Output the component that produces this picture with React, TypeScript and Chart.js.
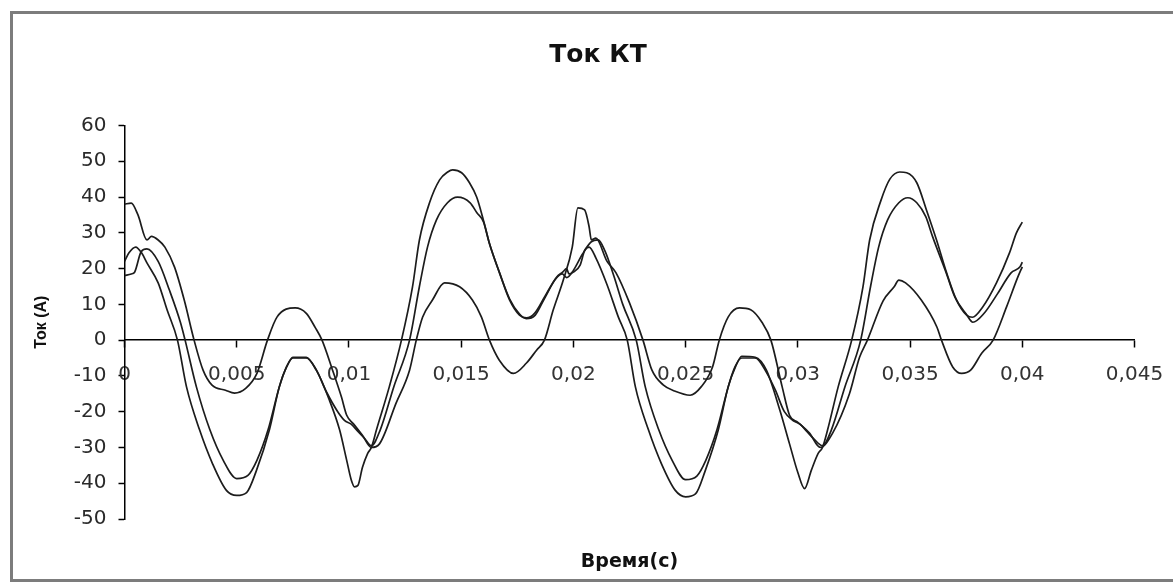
import { useEffect, useRef } from "react";
import { Chart, registerables } from "chart.js";

Chart.register(...registerables);

// ---- data (time in seconds, current in amperes) ----
const b1Time = [
  0, 0.0002, 0.0005, 0.00076, 0.001, 0.0015, 0.0019, 0.00236, 0.00276, 0.00334, 0.00392, 0.00454, 0.005,
  0.00544, 0.00588, 0.00646, 0.0069, 0.00722, 0.0075, 0.0081, 0.00855, 0.00913, 0.00958, 0.0099, 0.0101,
  0.01025, 0.0104, 0.0106, 0.01083, 0.011, 0.01123, 0.0118, 0.01234, 0.01283, 0.01314, 0.01359, 0.01404,
  0.0144, 0.01462, 0.01502, 0.01537, 0.01569, 0.01595, 0.01626, 0.01671, 0.01716, 0.0176, 0.01791, 0.01827,
  0.01871, 0.01925, 0.01952, 0.0197, 0.0198, 0.02, 0.0203, 0.0205, 0.0207, 0.021, 0.0215, 0.022, 0.0224,
  0.02276, 0.02334, 0.02392, 0.02454, 0.025, 0.02544, 0.02588, 0.02646, 0.0269, 0.02722, 0.0275, 0.0281,
  0.0286, 0.0292, 0.02963, 0.03, 0.0303, 0.0306, 0.0309, 0.0311, 0.03133, 0.0318, 0.0324, 0.0329, 0.0332,
  0.0337, 0.0341, 0.03454, 0.03485, 0.0353, 0.03573, 0.03618, 0.03663, 0.03707, 0.03752, 0.03778, 0.03823,
  0.03885, 0.03943, 0.03974, 0.04,
];
const b1Current = [
  22, 24.4, 26, 24.4, 21.6, 16, 8.4, 0, -13, -25, -34.5, -42, -43.4,
  -42.6, -36.4, -25, -13, -7.5, -4.8, -4.8, -8.4, -16.8, -25, -33.6, -39,
  -41, -40.6, -35.6, -31.7, -30, -25, -13, 0, 14.8, 28, 38.4, 44.8,
  47, 47.6, 46.8, 44, 40, 34.5, 27, 18.8, 11.2, 7, 6.2, 7.5,
  12, 17.6, 19, 20, 18.5, 19, 21, 25, 26, 23, 15.5, 6.5, 0,
  -13, -25, -34.5, -42, -43.8, -43, -36.4, -25, -13, -7.5, -4.5, -4.8,
  -8.4, -19.6, -29, -37, -41.5, -36.4, -31.7, -30, -25, -13, 0, 14.8, 28,
  39, 45, 47, 46.8, 44, 36.4, 28, 18.8, 11.2, 7, 6.4, 9.2,
  16, 24.4, 30, 33,
];

const b2Time = [
  0, 0.0003, 0.00045, 0.00074, 0.001, 0.0015, 0.002, 0.0025, 0.0027, 0.0032, 0.0038, 0.0044, 0.005,
  0.0055, 0.0059, 0.0064, 0.0069, 0.00722, 0.0075, 0.0081, 0.00855, 0.009, 0.0095, 0.0098, 0.0101, 0.0104,
  0.0107, 0.011, 0.0114, 0.012, 0.0127, 0.01314, 0.0135, 0.0139, 0.01439, 0.01484, 0.0154, 0.0157, 0.016,
  0.01626, 0.01671, 0.01716, 0.0176, 0.0179, 0.0183, 0.0187, 0.0192, 0.0195, 0.0197, 0.02, 0.0204, 0.0208,
  0.0211, 0.0214, 0.0218, 0.0222, 0.0228, 0.0232, 0.0238, 0.0244, 0.025, 0.0255, 0.0259, 0.0264, 0.0269,
  0.0272, 0.0275, 0.0281, 0.0286, 0.029, 0.0294, 0.02977, 0.0301, 0.0304, 0.0307, 0.0311, 0.0315, 0.0321,
  0.0328, 0.03324, 0.0336, 0.034, 0.0345, 0.0349, 0.0353, 0.0357, 0.036, 0.0366, 0.037, 0.0375, 0.0378,
  0.0383, 0.0389, 0.0395, 0.0399, 0.04,
];
const b2Current = [
  18, 18.5, 19, 24.7, 25.5, 22, 14, 4.8, 0, -13, -25, -33.6, -38.7,
  -37.8, -33.6, -25, -13, -7.5, -5, -5, -8.4, -14.5, -20, -22.4, -23.5, -25.5,
  -27.5, -29.5, -25, -13, 0, 15, 26, 33.6, 38.4, 40, 38.4, 35.6, 33,
  27, 18.8, 11.5, 7.3, 6, 7, 11.5, 17, 18.5, 17.5, 19.5, 24, 27.5,
  28, 25, 18, 10, 0, -13, -25, -33.6, -39, -38, -33.6, -25, -13,
  -7.5, -5, -5, -9, -14, -20, -22.4, -23.5, -25.5, -27.5, -29.5, -25, -13,
  0, 15, 26, 33.6, 38.4, 39.8, 38.4, 34.5, 29, 19, 12, 7.3, 5,
  7.5, 13, 18.8, 20.5, 21.8,
];

const sTime = [
  0, 0.0003, 0.0006, 0.001, 0.0012, 0.0015, 0.0018, 0.00223, 0.00267, 0.0031, 0.0035, 0.0039, 0.0045,
  0.0049, 0.0054, 0.0059, 0.00637, 0.0068, 0.0076, 0.0081, 0.0085, 0.0088, 0.00927, 0.00967, 0.0099,
  0.0102, 0.0106, 0.011, 0.01136, 0.0121, 0.0127, 0.013, 0.01328, 0.01372, 0.01426, 0.01493, 0.0155,
  0.0159, 0.01626, 0.0167, 0.01733, 0.01791, 0.01836, 0.01871, 0.0191, 0.01955, 0.01995, 0.0202, 0.0205,
  0.0207, 0.0208, 0.021, 0.0215, 0.0219, 0.0225, 0.0231, 0.0235, 0.024, 0.0245, 0.0252, 0.0257, 0.0262,
  0.0265, 0.0269, 0.0274, 0.0279, 0.0284, 0.0288, 0.0293, 0.02963, 0.03, 0.03052, 0.031, 0.03155, 0.0323,
  0.03275, 0.0331, 0.0338, 0.0343, 0.0345, 0.0348, 0.0355, 0.0362, 0.0364, 0.0369, 0.0373, 0.0377, 0.0382,
  0.0387, 0.0393, 0.0398, 0.04,
];
const sCurrent = [
  38, 38.3, 35, 28, 29, 28, 26, 20.4, 11, 0, -8.4, -12.6, -14,
  -14.8, -13.5, -9.3, 0, 6.5, 9, 7.5, 3.5, 0, -8.4, -16, -21,
  -23.4, -26.6, -30, -29, -17.6, -8.4, 0, 6.4, 11.2, 16, 14.9, 11.2,
  6.5, 0, -5.6, -9.3, -6.4, -2.8, 0, 8.4, 16.8, 26, 37, 36.4,
  31.7, 28, 28.5, 22, 18.8, 10.4, 0, -8.4, -12.5, -14.2, -15.4, -13, -7.5,
  0, 6.5, 9, 8.5, 5, 0, -13, -21, -23, -26, -30, -26, -15,
  -4.8, 0, 11, 15, 16.8, 16, 11.2, 3.6, 0, -7.5, -9.3, -8.4, -3.6,
  0, 9.3, 17.6, 20.5,
];

// ---- axes ----
const xMin = 0;
const xMax = 0.045;
const xStep = 0.005;
const yMin = -50;
const yMax = 60;
const yStep = 10;

const chartTitle = "Ток КТ";
const xTitle = "Время(с)";
const yTitle = "Ток (А)";

const toPoints = (ts: number[], vs: number[]) => ts.map((t, i) => ({ x: t, y: vs[i] }));

const formatX = (v: number | string) =>
  String(parseFloat(Number(v).toFixed(4))).replace(".", ",");

export default function App() {
  const ref = useRef<HTMLCanvasElement | null>(null);

  useEffect(() => {
    if (!ref.current) return;
    const lineStyle = {
      borderColor: "#1c1c1c",
      borderWidth: 1.7,
      pointRadius: 0,
      fill: false,
      cubicInterpolationMode: "monotone" as const,
    };
    const chart = new Chart(ref.current, {
      type: "line",
      data: {
        datasets: [
          { label: "1", data: toPoints(b1Time, b1Current), ...lineStyle },
          { label: "2", data: toPoints(b2Time, b2Current), ...lineStyle },
          { label: "3", data: toPoints(sTime, sCurrent), ...lineStyle },
        ],
      },
      options: {
        responsive: false,
        animation: false,
        devicePixelRatio: 1,
        layout: { padding: 0 },
        plugins: {
          legend: { display: false },
          tooltip: { enabled: false },
          title: {
            display: true,
            text: chartTitle,
            color: "#111",
            font: { family: "'DejaVu Sans', sans-serif", size: 25, weight: "bold" },
            padding: { top: 40, bottom: 55.5 },
          },
          subtitle: {
            display: true,
            text: xTitle,
            position: "bottom",
            fullSize: false,
            color: "#111",
            font: { family: "'DejaVu Sans', sans-serif", size: 19, weight: "bold" },
            padding: { top: 31.6, bottom: 13.6 },
          },
        },
        scales: {
          x: {
            type: "linear",
            position: { y: 0 },
            min: xMin,
            max: xMax,
            ticks: {
              stepSize: xStep,
              autoSkip: false,
              maxRotation: 0,
              padding: 16,
              color: "#333",
              font: { family: "'DejaVu Sans', sans-serif", size: 20 },
              callback: (v) => formatX(v),
            },
            grid: {
              drawOnChartArea: false,
              drawTicks: true,
              tickLength: 7,
              tickColor: "#000",
              tickWidth: 1.5,
            },
            border: { color: "#000", width: 1.5 },
          },
          y: {
            type: "linear",
            position: "left",
            min: yMin,
            max: yMax,
            ticks: {
              stepSize: yStep,
              padding: 12,
              color: "#2a2a2a",
              font: { family: "'DejaVu Sans', sans-serif", size: 20 },
            },
            grid: {
              drawOnChartArea: false,
              drawTicks: true,
              tickLength: 6,
              tickColor: "#000",
              tickWidth: 1.5,
            },
            border: { color: "#000", width: 1.5 },
            title: {
              display: true,
              text: yTitle,
              color: "#111",
              font: { family: "'Liberation Sans', Arial, sans-serif", size: 16, weight: "bold" },
              padding: { top: 32.4, bottom: 0 },
            },
            afterFit: (scale) => {
              scale.width = 124.5;
            },
          },
          yRight: {
            type: "linear",
            position: "right",
            display: true,
            ticks: { display: false },
            grid: { display: false, drawTicks: false },
            border: { display: false },
            afterFit: (scale) => {
              scale.width = 61.5;
            },
          },
        },
      },
    });
    return () => chart.destroy();
  }, []);

  return (
    <div
      style={{
        position: "absolute",
        left: 0,
        top: 0,
        width: 1173,
        height: 587,
        overflow: "hidden",
        background: "#fff",
      }}
    >
      <div
        style={{
          position: "absolute",
          left: 10,
          top: 11,
          width: 1200,
          height: 571,
          border: "3px solid #7c7c7c",
          boxSizing: "border-box",
        }}
      />
      <canvas
        ref={ref}
        width={1196}
        height={587}
        style={{ position: "absolute", left: 0, top: 0, width: 1196, height: 587 }}
      />
    </div>
  );
}
